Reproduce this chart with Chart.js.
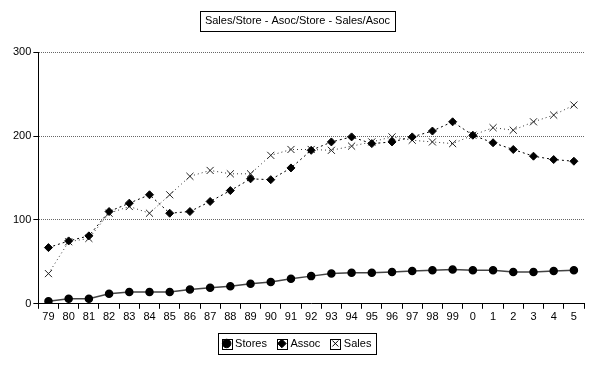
<!DOCTYPE html>
<html>
<head>
<meta charset="utf-8">
<script src="https://cdn.jsdelivr.net/npm/chart.js@4/dist/chart.umd.min.js"></script>
<style>
  html, body { margin: 0; padding: 0; background: #fff; }
</style>
</head>
<body>
<canvas id="myChart" width="600" height="365"></canvas>
<script>
var years = ['79', '80', '81', '82', '83', '84', '85', '86', '87', '88', '89', '90', '91', '92',
  '93', '94', '95', '96', '97', '98', '99', '0', '1', '2', '3', '4', '5'];
var stores = [3, 6, 6, 12, 14, 14, 14, 17, 19, 21, 24, 26, 30, 33, 36, 37, 37, 38, 39, 40, 41, 40, 40, 38, 38, 39, 40];
var assoc = [67, 75, 81, 110, 120, 130, 108, 110, 122, 135, 149, 148, 162, 183, 193, 199, 191, 193, 199, 206, 217, 201, 192, 184, 176, 172, 170];
var sales = [36, 74, 78, 108, 116, 108, 130, 152, 159, 155, 155, 177, 184, 184, 183, 188, 193, 199, 195, 193, 191, 201, 210, 207, 217, 225, 237];
var yTicks = [0, 100, 200, 300];

var fontFamily = '"Liberation Sans", Arial, sans-serif';

// box round the title and round the legend, plus the small squares round the legend markers
var boxPlugin = {
  id: 'boxes',
  afterDraw: function (chart) {
    var ctx = chart.ctx;
    ctx.save();
    ctx.strokeStyle = '#000';
    ctx.lineWidth = 1;

    var tb = chart.titleBlock;
    var topts = chart.options.plugins.title;
    ctx.font = topts.font.size + 'px ' + fontFamily;
    var tw = ctx.measureText(topts.text).width;
    var cx = (tb.left + tb.right) / 2;
    var cy = tb.top + topts.padding.top + topts.font.size * 1.2 / 2;
    ctx.strokeRect(Math.round(cx - tw / 2 - 5) + 0.5, Math.round(cy - 10) + 0.5, Math.round(tw + 10), 20);

    var boxes = chart.legend.legendHitBoxes;
    if (boxes && boxes.length) {
      var l = Infinity, r = -Infinity, t = Infinity, b = -Infinity;
      boxes.forEach(function (h) {
        l = Math.min(l, h.left); r = Math.max(r, h.left + h.width);
        t = Math.min(t, h.top); b = Math.max(b, h.top + h.height);
        var mx = h.left + 3, my = h.top + h.height / 2;
        ctx.strokeRect(Math.round(mx - 5) + 0.5, Math.round(my - 5) + 0.5, 10, 10);
      });
      ctx.strokeRect(Math.round(l - 6) + 0.5, Math.round(t - 5) + 0.5, Math.round(r - l + 10), Math.round(b - t + 10));
    }
    ctx.restore();
  }
};

var myChart = document.getElementById('myChart').getContext('2d');
var chart = new Chart(myChart, {
  type: 'line',
  data: {
    labels: years,
    datasets: [{
      label: 'Stores',
      data: stores,
      borderColor: '#444',
      borderWidth: 1.5,
      pointStyle: 'circle',
      pointRadius: 3.5,
      pointBackgroundColor: '#000',
      pointBorderColor: '#000',
      tension: 0
    }, {
      label: 'Assoc',
      data: assoc,
      borderColor: '#000',
      borderWidth: 1,
      borderDash: [2, 3],
      pointStyle: 'rectRot',
      pointRadius: 4,
      pointBackgroundColor: '#000',
      pointBorderColor: '#000',
      tension: 0
    }, {
      label: 'Sales',
      data: sales,
      borderColor: '#333',
      borderWidth: 1,
      borderDash: [1, 3],
      pointStyle: 'crossRot',
      pointRadius: 5,
      pointBorderWidth: 1,
      pointBorderColor: '#222',
      tension: 0
    }]
  },
  options: {
    responsive: false,
    animation: false,
    devicePixelRatio: 1,
    layout: { padding: { left: 11, right: 16, top: 0, bottom: 6 } },
    scales: {
      x: {
        offset: true,
        grid: { offset: true, drawOnChartArea: false, drawTicks: true, tickLength: 5, color: '#000' },
        border: { color: '#000', width: 1 },
        ticks: { color: '#000', font: { size: 11, family: fontFamily }, padding: 2, maxRotation: 0, autoSkip: false }
      },
      y: {
        min: 0,
        max: 300,
        afterBuildTicks: function (axis) {
          axis.ticks = yTicks.map(function (v) { return { value: v }; });
        },
        grid: {
          color: function (c) { return c.tick && c.tick.value === 0 ? 'rgba(0,0,0,0)' : '#666'; },
          tickColor: '#000',
          tickLength: 5
        },
        border: { color: '#000', width: 1, dash: [1, 1] },
        ticks: { color: '#000', font: { size: 11, family: fontFamily }, padding: 2 }
      }
    },
    plugins: {
      title: {
        display: true,
        text: 'Sales/Store - Asoc/Store - Sales/Asoc',
        color: '#000',
        font: { size: 11, family: fontFamily, weight: 'normal' },
        padding: { top: 14, bottom: 25 }
      },
      legend: {
        position: 'bottom',
        labels: {
          usePointStyle: true,
          boxWidth: 6,
          boxHeight: 6,
          padding: 12,
          color: '#000',
          font: { size: 11, family: fontFamily },
          generateLabels: function (c) {
            return c.data.datasets.map(function (ds, i) {
              return {
                text: ds.label,
                fillStyle: '#000',
                strokeStyle: '#000',
                lineWidth: 1,
                lineDash: [],
                pointStyle: ds.pointStyle,
                hidden: false,
                datasetIndex: i
              };
            });
          }
        }
      },
      tooltip: { enabled: false }
    }
  },
  plugins: [boxPlugin]
});
</script>
</body>
</html>
